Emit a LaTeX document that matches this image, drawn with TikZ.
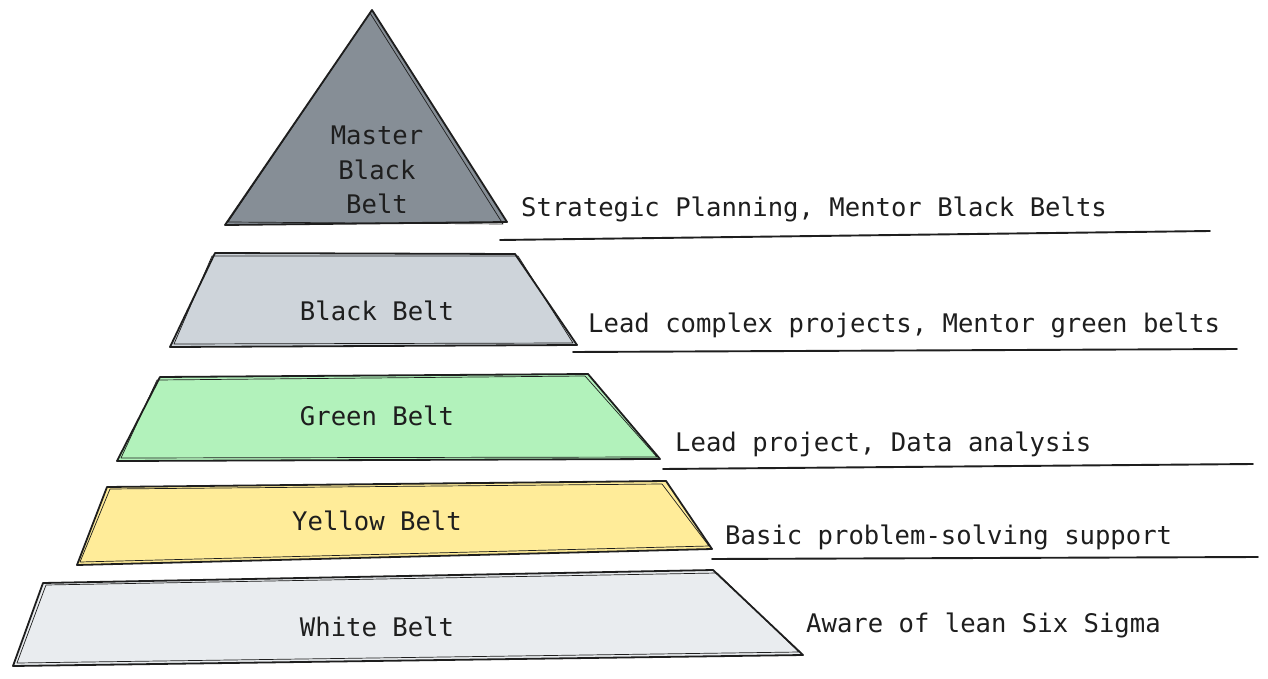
\documentclass[tikz,border=0pt]{standalone}
\usepackage{fontspec}
\setmonofont{DejaVu Sans Mono}
\definecolor{ink}{HTML}{1E1E1E}
\definecolor{mbb}{HTML}{868E96}
\definecolor{bb}{HTML}{CED4DA}
\definecolor{gb}{HTML}{B2F2BB}
\definecolor{yb}{HTML}{FFEC99}
\definecolor{wb}{HTML}{E9ECEF}
\tikzset{
  tier/.style={draw=ink, line width=1.8pt, line join=round},
  sketch/.style={draw=ink, line width=0.7pt, line join=round},
  rule/.style={draw=ink, line width=1.9pt, line cap=round},
  lbl/.style={font=\ttfamily\fontsize{25.6}{34}\selectfont, text=ink, inner sep=0pt, anchor=base, align=center},
  desc/.style={font=\ttfamily\fontsize{25.6}{34}\selectfont, text=ink, inner sep=0pt, anchor=base west},
}
\begin{document}
\begin{tikzpicture}[x=1pt,y=-1pt]
\useasboundingbox (0,0) rectangle (1268,679);
\fill[white] (0,0) rectangle (1268,679);
% Master Black Belt triangle
\path[tier, fill=mbb] (372,10) -- (507,222) -- (225,225) -- cycle;
\draw[sketch] (370,13) -- (503,224) -- (228,222) -- cycle;
% Black Belt
\path[tier, fill=bb] (215,253) -- (515,254) -- (577,345) -- (170,347) -- cycle;
\draw[sketch] (212,256) -- (518,256) -- (573,343) -- (174,344) -- cycle;
% Green Belt
\path[tier, fill=gb] (160,377) -- (588,374) -- (660,459) -- (117,461) -- cycle;
\draw[sketch] (157,380) -- (585,376) -- (657,457) -- (121,458) -- cycle;
% Yellow Belt
\path[tier, fill=yb] (107,487) -- (666,481) -- (712,549) -- (77,565) -- cycle;
\draw[sketch] (110,489) -- (662,484) -- (709,546) -- (80,562) -- cycle;
% White Belt
\path[tier, fill=wb] (43,583) -- (713,570) -- (803,655) -- (13,666) -- cycle;
\draw[sketch] (46,585) -- (717,573) -- (799,652) -- (17,663) -- cycle;
% rules
\coordinate (r1a) at (500,240); \coordinate (r1b) at (1210,231);
\coordinate (r2a) at (573,352); \coordinate (r2b) at (1237,349);
\coordinate (r3a) at (663,469); \coordinate (r3b) at (1253,464);
\coordinate (r4a) at (712,559); \coordinate (r4b) at (1258,557);
\draw[rule] (r1a) -- (r1b);
\draw[rule] (r2a) -- (r2b);
\draw[rule] (r3a) -- (r3b);
\draw[rule] (r4a) -- (r4b);
% tier labels
\node[lbl] (tm1) at (377,145) {Master};
\node[lbl] (tm2) at (377,180) {Black};
\node[lbl] (tm3) at (377,214) {Belt};
\node[lbl] (tb) at (377,320) {Black Belt};
\node[lbl] (tg) at (377,425) {Green Belt};
\node[lbl] (ty) at (377,530) {Yellow Belt};
\node[lbl] (tw) at (377,636) {White Belt};
% descriptions
\node[desc] (d1) at (521,216) {Strategic Planning, Mentor Black Belts};
\node[desc] (d2) at (588,332) {Lead complex projects, Mentor green belts};
\node[desc] (d3) at (675,451) {Lead project, Data analysis};
\node[desc] (d4) at (725,544) {Basic problem-solving support};
\node[desc] (d5) at (806,632) {Aware of lean Six Sigma};
\end{tikzpicture}
\end{document}
